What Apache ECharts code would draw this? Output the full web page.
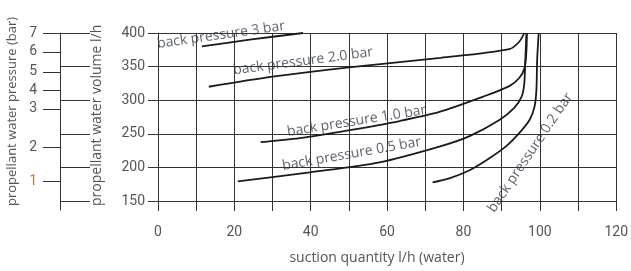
<!DOCTYPE html>
<html>
<head>
<meta charset="utf-8">
<script src="https://cdn.jsdelivr.net/npm/echarts@6/dist/echarts.min.js"></script>
<style>
  html, body { margin: 0; padding: 0; background: #fff; }
  #chart { width: 631px; height: 271px; }
</style>
</head>
<body>
<div id="chart"></div>
<script>
// 曲线数据 [suction l/h, propellant water volume l/h]
const bp3 = [[11.5, 380], [24, 390], [38, 400]];
const bp20 = [[13.3, 320], [30, 335], [50, 349], [74, 363], [92, 376], [94.6, 387], [95.9, 400]];
const bp10 = [[26.9, 237.6], [37.1, 243.6], [50.2, 255.5], [63.3, 269], [73.7, 282.5], [85, 305],
  [92, 321], [94.6, 333], [96, 348], [96.5, 375], [96.6, 400]];
const bp05 = [[20.9, 179.2], [39.7, 192.7], [58, 207.6], [73.7, 231], [81.6, 246.6], [89.4, 270.5],
  [93.3, 288.5], [95.2, 305], [95.9, 323], [96.2, 360], [96.5, 400]];
const bp02 = [[71.9, 177.7], [76.3, 183.7], [81.6, 195.7], [86.8, 213.6], [91.2, 231.6], [94.6, 251],
  [97.3, 270.5], [98.6, 290], [99.1, 315], [99.3, 360], [99.7, 400]];

// 曲线标注文字：名称、位置、角度
const curveNames = ['back pressure 3 bar', 'back pressure 2.0 bar', 'back pressure 1.0 bar',
  'back pressure 0.5 bar', 'back pressure 0.2 bar'];
const curveLabelPos = [[16.5, 397], [38, 358], [52, 269], [50.7, 220], [97.5, 222]];
const curveLabelAngle = [8, 7.5, 9, 10, 56];

// 压力刻度 (bar) 及其对应的水量位置
const pressureTicks = [1, 2, 3, 4, 5, 6, 7];
const pressurePos = [179, 230, 287, 315, 342, 372, 400];
const volumeTicks = [150, 200, 250, 300, 350, 400];

const gridColor = '#333';
const textColor = '#555';
const numFont = '"Roboto", sans-serif';
const txtFont = '"Open Sans", sans-serif';

const chart = echarts.init(document.getElementById('chart'));

const lineSeries = [bp3, bp20, bp10, bp05, bp02].map((d) => ({
  type: 'line',
  data: d,
  smooth: 0.3,
  symbol: 'none',
  lineStyle: { color: '#1a1a1a', width: 1.8 },
  z: 3,
}));

const labelSeries = {
  type: 'scatter',
  symbolSize: 0,
  silent: true,
  data: curveNames.map((n, i) => ({
    name: n,
    value: curveLabelPos[i],
    label: { rotate: curveLabelAngle[i] },
  })),
  label: {
    show: true,
    position: 'inside',
    formatter: '{b}',
    color: '#333a46',
    fontFamily: txtFont,
    fontSize: 14,
  },
  z: 4,
};

const options = {
  animation: false,
  grid: [
    { left: 158, right: 14, top: 33, bottom: 70 },
    { left: 60, width: 30, top: 33, bottom: 61 },
  ],
  xAxis: [
    {
      type: 'value', gridIndex: 0, min: 0, max: 120, interval: 10,
      axisLine: { show: true, lineStyle: { color: gridColor } },
      axisTick: { show: true, length: 10, lineStyle: { color: gridColor } },
      splitLine: { show: true, lineStyle: { color: gridColor } },
      axisLabel: {
        margin: 24, color: textColor, fontFamily: numFont, fontSize: 14,
        formatter: (v) => (v % 20 === 0 ? v : ''),
      },
    },
    { type: 'value', gridIndex: 1, show: false },
  ],
  yAxis: [
    {
      type: 'value', gridIndex: 0, min: 150, max: 400, interval: 25,
      axisLine: { show: true, lineStyle: { color: gridColor } },
      axisTick: { show: true, length: 10, customValues: volumeTicks, lineStyle: { color: gridColor } },
      splitLine: { show: true, lineStyle: { color: gridColor } },
      axisLabel: {
        margin: 13, color: textColor, fontFamily: numFont, fontSize: 14,
        customValues: volumeTicks,
      },
    },
    {
      // 压力轴
      type: 'value', gridIndex: 1, position: 'left', min: 136.5, max: 400,
      axisLine: { show: true, lineStyle: { color: gridColor } },
      axisTick: { show: true, length: 17, customValues: pressurePos, lineStyle: { color: gridColor } },
      splitLine: { show: false },
      axisLabel: {
        margin: 23, fontFamily: numFont, fontSize: 14, color: textColor,
        customValues: pressurePos,
        formatter: (v) => {
          const p = pressureTicks[pressurePos.indexOf(v)];
          return p === 1 ? '{o|1}' : String(p);
        },
        rich: { o: { color: '#c57a2c', fontFamily: numFont, fontSize: 14 } },
      },
    },
    {
      // 压力轴与水量轴之间的连接线
      type: 'value', gridIndex: 1, position: 'left', min: 136.5, max: 400,
      axisLine: { show: false },
      axisTick: { show: true, inside: true, length: 30, customValues: volumeTicks, lineStyle: { color: gridColor } },
      axisLabel: { show: false },
      splitLine: { show: false },
    },
  ],
  graphic: [
    {
      type: 'text', x: 12, y: 206, rotation: Math.PI / 2,
      style: { text: 'propellant water pressure (bar)', fill: textColor, font: '13px ' + txtFont,
        textAlign: 'left', textVerticalAlign: 'middle' },
    },
    {
      type: 'text', x: 97, y: 206, rotation: Math.PI / 2,
      style: { text: 'propellant water volume l/h', fill: textColor, font: '14px ' + txtFont,
        textAlign: 'left', textVerticalAlign: 'middle' },
    },
    {
      type: 'text', x: 377, y: 258,
      style: { text: 'suction quantity l/h (water)', fill: textColor, font: '14px ' + txtFont,
        textAlign: 'center', textVerticalAlign: 'middle' },
    },
  ],
  series: [...lineSeries, labelSeries],
};

chart.setOption(options);
</script>
</body>
</html>
